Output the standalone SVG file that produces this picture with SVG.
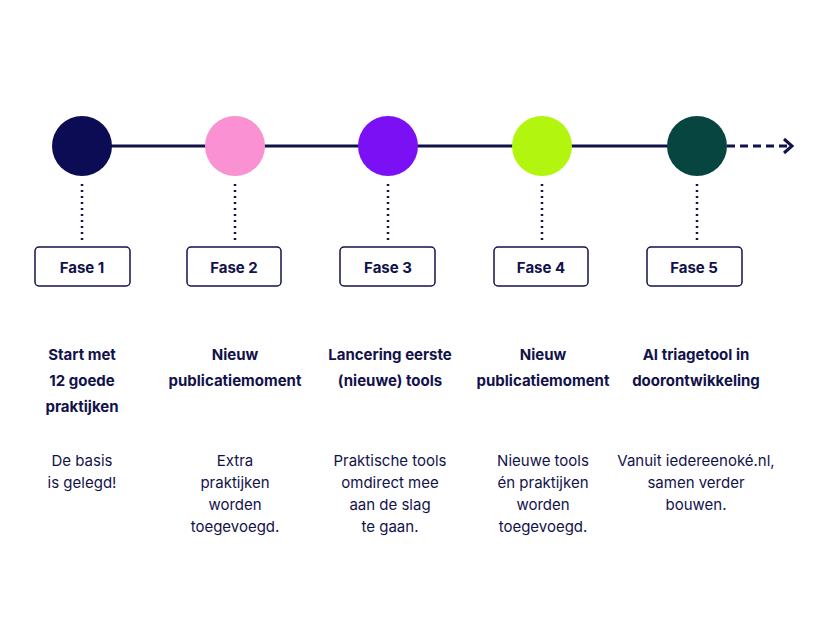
<svg xmlns="http://www.w3.org/2000/svg" width="830" height="622" viewBox="0 0 830 622">
<style>
.t{font-family:"Inter","Liberation Sans",sans-serif;font-size:15px;fill:#12124a;text-anchor:middle}
.b{font-weight:700}
.box{fill:#fff;stroke:#12124a;stroke-width:1.5}
.dot{stroke:#12124a;stroke-width:2.5;stroke-dasharray:2 4}
</style>
<rect width="830" height="622" fill="#fff"/>
<g id="connectors" stroke="#12124a" fill="none">
<line x1="82" y1="146" x2="697" y2="146" stroke-width="3"/>
<line x1="727" y1="146" x2="790" y2="146" stroke-width="3" stroke-dasharray="8 5"/>
<polyline points="784,139 792,146 784,153" stroke-width="3"/>
<line class="dot" x1="82" y1="184" x2="82" y2="240"/>
<line class="dot" x1="235" y1="184" x2="235" y2="240"/>
<line class="dot" x1="388" y1="184" x2="388" y2="240"/>
<line class="dot" x1="542" y1="184" x2="542" y2="240"/>
<line class="dot" x1="697" y1="184" x2="697" y2="240"/>
</g>
<g id="fase1">
<circle cx="82" cy="146" r="30" fill="#0c0c55"/>
<rect class="box" x="35" y="247" width="95" height="39" rx="4"/>
<text class="t b" x="82" y="273">Fase 1</text>
<text class="t b" x="82" y="360">Start met</text>
<text class="t b" x="82" y="386">12 goede</text>
<text class="t b" x="82" y="412">praktijken</text>
<text class="t" x="82" y="466">De basis</text>
<text class="t" x="82" y="488">is gelegd!</text>
</g>
<g id="fase2">
<circle cx="235" cy="146" r="30" fill="#f991d3"/>
<rect class="box" x="187" y="247" width="94" height="39" rx="4"/>
<text class="t b" x="234" y="273">Fase 2</text>
<text class="t b" x="235" y="360">Nieuw</text>
<text class="t b" x="235" y="386">publicatiemoment</text>
<text class="t" x="235" y="466">Extra</text>
<text class="t" x="235" y="488">praktijken</text>
<text class="t" x="235" y="510">worden</text>
<text class="t" x="235" y="532">toegevoegd.</text>
</g>
<g id="fase3">
<circle cx="388" cy="146" r="30" fill="#7b10f5"/>
<rect class="box" x="340" y="247" width="95" height="39" rx="4"/>
<text class="t b" x="388" y="273">Fase 3</text>
<text class="t b" x="390" y="360">Lancering eerste</text>
<text class="t b" x="390" y="386">(nieuwe) tools</text>
<text class="t" x="390" y="466">Praktische tools</text>
<text class="t" x="390" y="488">omdirect mee</text>
<text class="t" x="390" y="510">aan de slag</text>
<text class="t" x="390" y="532">te gaan.</text>
</g>
<g id="fase4">
<circle cx="542" cy="146" r="30" fill="#b2f60f"/>
<rect class="box" x="494" y="247" width="94" height="39" rx="4"/>
<text class="t b" x="541" y="273">Fase 4</text>
<text class="t b" x="543" y="360">Nieuw</text>
<text class="t b" x="543" y="386">publicatiemoment</text>
<text class="t" x="543" y="466">Nieuwe tools</text>
<text class="t" x="543" y="488">én praktijken</text>
<text class="t" x="543" y="510">worden</text>
<text class="t" x="543" y="532">toegevoegd.</text>
</g>
<g id="fase5">
<circle cx="697" cy="146" r="30" fill="#074541"/>
<rect class="box" x="647" y="247" width="95" height="39" rx="4"/>
<text class="t b" x="694" y="273">Fase 5</text>
<text class="t b" x="696" y="360">AI triagetool in</text>
<text class="t b" x="696" y="386">doorontwikkeling</text>
<text class="t" x="696" y="466">Vanuit iedereenoké.nl,</text>
<text class="t" x="696" y="488">samen verder</text>
<text class="t" x="696" y="510">bouwen.</text>
</g>
</svg>
